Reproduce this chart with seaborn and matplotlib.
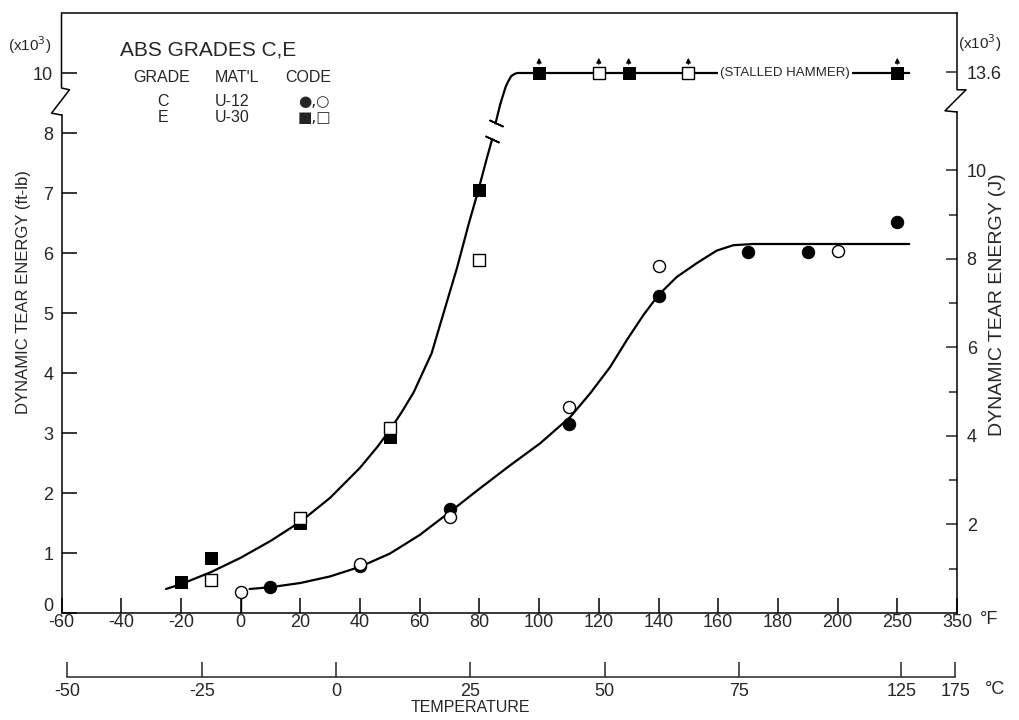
import numpy as np
import matplotlib
matplotlib.use("Agg")
import matplotlib.pyplot as plt
import matplotlib.transforms as mtransforms
import seaborn as sns

# ---- data (temperature in deg F, energy in ft-lb x10^3) ----
e_fill_f = [-20, -10, 20, 50, 80, 100, 130, 250]
e_fill_v = [0.52, 0.92, 1.50, 2.93, 7.05, 10, 10, 10]
e_open_f = [-10, 20, 50, 80, 120, 150]
e_open_v = [0.55, 1.58, 3.08, 5.88, 10, 10]
c_fill_f = [10, 40, 70, 110, 140, 170, 190, 250]
c_fill_v = [0.43, 0.78, 1.73, 3.15, 5.28, 6.02, 6.02, 6.52]
c_open_f = [0, 40, 70, 110, 140, 200]
c_open_v = [0.35, 0.82, 1.60, 3.43, 5.78, 6.03]
stalled_f = [100, 120, 130, 150, 250]

# fitted curves as drawn
e_low_f = [-25, -20, -10, 0, 10, 20, 30, 40, 46, 50, 54, 58, 64, 68, 72.6, 76.5, 79.5, 82.6, 84.3]
e_low_v = [0.40, 0.48, 0.68, 0.92, 1.20, 1.52, 1.92, 2.42, 2.78, 3.05, 3.35, 3.68, 4.33, 5.00,
           5.77, 6.50, 7.02, 7.60, 7.90]
e_high_f = [85.4, 87.1, 88.8, 89.8, 90.7, 91.8, 92.7, 95, 100, 130, 270]
e_high_v = [8.32, 9.00, 9.54, 9.75, 9.90, 9.97, 10, 10, 10, 10, 10]
c_curve_f = [3, 10, 20, 30, 40, 50, 60, 70, 80, 90, 100.4, 110.5, 117.1, 123.8, 129.4, 135, 140,
             146.1, 152.8, 159.5, 165.1, 171.7, 270]
c_curve_v = [0.40, 0.43, 0.50, 0.61, 0.77, 0.99, 1.30, 1.68, 2.07, 2.45, 2.83, 3.27, 3.66, 4.10,
             4.55, 4.97, 5.30, 5.60, 5.83, 6.04, 6.13, 6.15, 6.15]

f_ticks = [-60, -40, -20, 0, 20, 40, 60, 80, 100, 120, 140, 160, 180, 200, 250, 350]
c_ticks = [-50, -25, 0, 25, 50, 75, 125, 175]
ft_ticks = [0, 1, 2, 3, 4, 5, 6, 7, 8, 10]
kj_major = [2, 4, 6, 8, 10, 13.6]
kj_minor = [1, 3, 5, 7, 9]


def xpos(f):
    # broken temperature scale: linear to 200, compressed above
    f = np.asarray(f, float)
    return np.where(f <= 200, f, np.where(f <= 250, 200 + (f - 200) * 0.4, 220 + (f - 250) * 0.2))


def ypos(v):
    # broken energy scale: 8 -> 10 squeezed into one unit
    v = np.asarray(v, float)
    return np.where(v <= 8, v, np.where(v <= 10, 8 + (v - 8) / 2, 9 + (v - 10) / 2))


sns.set_style("ticks")
plt.rcParams['font.family'] = ['Liberation Sans', 'DejaVu Sans']

W, H = 1019, 720
fig = plt.figure(figsize=(W / 100, H / 100), dpi=100)
ax = fig.add_axes([61.5 / W, 107 / H, 895.5 / W, 600 / H])
ax.set_xlim(-60, 240)
ax.set_ylim(0, 10)
lw_ax = 1.1

# curves
sns.lineplot(x=xpos(e_low_f), y=ypos(e_low_v), sort=False, estimator=None, color='black', lw=1.6, ax=ax)
sns.lineplot(x=xpos(e_high_f), y=ypos(e_high_v), sort=False, estimator=None, color='black', lw=1.6, ax=ax)
sns.lineplot(x=xpos(c_curve_f), y=ypos(c_curve_v), sort=False, estimator=None, color='black', lw=1.6, ax=ax)

# break bars on the steep curve
ax.plot([xpos(e_low_f[-1]), xpos(e_high_f[0])], [ypos(e_low_v[-1]), ypos(e_high_v[0])],
        ls='none', marker=(2, 2, 65), ms=11, mew=1.2, color='black')

# stalled hammer label
ax.text(182.5, ypos(10), '(STALLED HAMMER)', ha='center', va='center', fontsize=9.5,
        bbox=dict(fc='white', ec='none', pad=1.5), zorder=3)

# markers
sns.scatterplot(x=xpos(e_fill_f), y=ypos(e_fill_v), marker='s', s=80, color='black',
                edgecolor='black', ax=ax, zorder=5)
sns.scatterplot(x=xpos(e_open_f), y=ypos(e_open_v), marker='s', s=70, color='white',
                edgecolor='black', linewidth=1, ax=ax, zorder=5)
sns.scatterplot(x=xpos(c_fill_f), y=ypos(c_fill_v), marker='o', s=80, color='black',
                edgecolor='black', ax=ax, zorder=5)
sns.scatterplot(x=xpos(c_open_f), y=ypos(c_open_v), marker='o', s=75, color='white',
                edgecolor='black', linewidth=1, ax=ax, zorder=5)
ax.vlines(c_open_f[0], 0, c_open_v[0] - 0.1, color='black', lw=1)

for f in stalled_f:
    ax.annotate('', xy=(xpos(f), 9.3), xytext=(xpos(f), 9.1),
                arrowprops=dict(arrowstyle='-|>', lw=0.9, color='black', mutation_scale=7))

# axes / ticks
ax.set_xticks(xpos(f_ticks), [str(t) for t in f_ticks])
ax.set_yticks(ypos(ft_ticks), [str(t) for t in ft_ticks])
ax.tick_params(axis='both', direction='in', length=11, width=lw_ax, labelsize=13, color='black')
ax.tick_params(axis='x', pad=1)
ax.tick_params(axis='y', pad=6, right=False)
lab0 = ax.get_yticklabels()[0]
lab0.set_transform(lab0.get_transform() + mtransforms.ScaledTranslation(0, 6 / 72, fig.dpi_scale_trans))
for s in ax.spines.values():
    s.set_linewidth(lw_ax)
    s.set_color('black')
ax.spines['left'].set_bounds(0, 8.3)
ax.spines['right'].set_visible(False)

axr = ax.twinx()
axr.set_ylim(0, 10)
kj = 0.73756
axr.set_yticks(ypos(np.array(kj_major) * kj),
               ['2', '4', '6', '8', '10', '13.6'])
axr.set_yticks(ypos(np.array(kj_minor) * kj), minor=True)
axr.tick_params(axis='y', which='major', direction='in', length=8, width=lw_ax, labelsize=13, pad=7)
axr.tick_params(axis='y', which='minor', direction='in', length=6, width=lw_ax)
for s in axr.spines.values():
    s.set_visible(False)
axr.spines['right'].set_visible(True)
axr.spines['right'].set_linewidth(lw_ax)
axr.spines['right'].set_color('black')
axr.spines['right'].set_bounds(0, 8.35)

# broken y-axis zigzags
tr = mtransforms.blended_transform_factory(ax.transAxes, ax.transData)
dx = 1 / 895.5
ax.plot([0, 0, 8 * dx, -10 * dx, 0], [10, 8.75, 8.72, 8.33, 8.3], color='black',
        lw=lw_ax, transform=tr, clip_on=False)
ax.plot([1, 1, 1 + 9 * dx, 1 - 12 * dx, 1], [10, 8.72, 8.72, 8.37, 8.35], color='black',
        lw=lw_ax, transform=tr, clip_on=False)

# deg C scale below
sec = ax.secondary_xaxis(-0.1067)
sec.set_xticks(xpos(np.array(c_ticks) * 1.8 + 32), [str(t) for t in c_ticks])
sec.tick_params(direction='in', length=11, width=lw_ax, labelsize=13, pad=4)
sec.spines['bottom'].set_bounds(float(xpos(-58)), float(xpos(347)))
sec.spines['bottom'].set_linewidth(lw_ax)

# texts
def ftxt(x, y, s, **kw):
    fig.text(x / W, 1 - y / H, s, **kw)

ftxt(8, 45, '(x10$^3$)', fontsize=11, va='center')
ftxt(958, 43, '(x10$^3$)', fontsize=11, va='center')
ftxt(120, 50, 'ABS GRADES C,E', fontsize=15, va='center')
ftxt(133, 77, 'GRADE', fontsize=11.5, va='center')
ftxt(215, 77, "MAT'L", fontsize=11.5, va='center')
ftxt(285, 77, 'CODE', fontsize=11.5, va='center')
ftxt(163, 102, 'C', fontsize=11.5, va='center', ha='center')
ftxt(163, 117, 'E', fontsize=11.5, va='center', ha='center')
ftxt(215, 102, 'U-12', fontsize=11.5, va='center')
ftxt(215, 117, 'U-30', fontsize=11.5, va='center')
ftxt(298, 102, '●,○', fontsize=11, va='center', family='DejaVu Sans')
ftxt(298, 117, '■,□', fontsize=11, va='center', family='DejaVu Sans')
ftxt(24, 292, 'DYNAMIC TEAR ENERGY (ft-lb)', fontsize=12, rotation=90, va='center', ha='center')
ftxt(998, 305, 'DYNAMIC TEAR ENERGY (J)', fontsize=14, rotation=90, va='center', ha='center')
ftxt(470, 708, 'TEMPERATURE', fontsize=11.5, va='center', ha='center')
ftxt(980, 619, '°F', fontsize=13, va='center')
ftxt(985, 690, '°C', fontsize=13, va='center')

fig.savefig('out.png', dpi=100, facecolor='white')
